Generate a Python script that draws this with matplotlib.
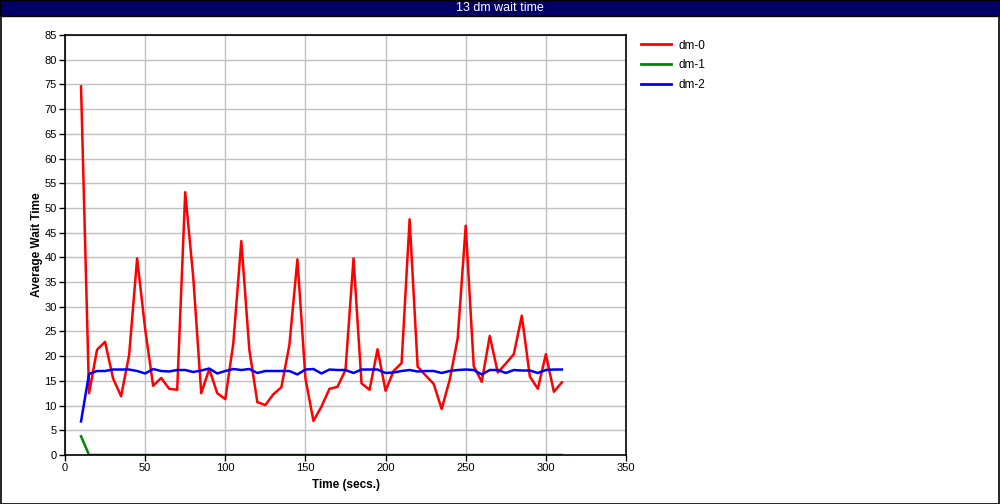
import matplotlib
matplotlib.use("Agg")
import matplotlib.pyplot as plt
from matplotlib.patches import Rectangle
from matplotlib.lines import Line2D

plt.rcParams['font.family'] = ['Liberation Sans Narrow', 'Liberation Sans', 'DejaVu Sans']

time = [10, 15, 20, 25, 30, 35, 40, 45, 50, 55, 60, 65, 70, 75, 80, 85, 90, 95, 100,
        105, 110, 115, 120, 125, 130, 135, 140, 145, 150, 155, 160, 165, 170, 175, 180,
        185, 190, 195, 200, 205, 210, 215, 220, 225, 230, 235, 240, 245, 250, 255, 260,
        265, 270, 275, 280, 285, 290, 295, 300, 305, 310]

dm0 = [74.6, 12.5, 21.3, 22.9, 15.5, 11.9, 20.2, 39.8, 25.5, 14.0, 15.6, 13.4, 13.2, 53.2,
       36.0, 12.5, 17.4, 12.5, 11.3, 22.6, 43.3, 21.3, 10.7, 10.1, 12.3, 13.7, 22.3, 39.6,
       15.5, 6.9, 9.8, 13.4, 13.8, 17.2, 39.8, 14.5, 13.2, 21.4, 13.0, 17.0, 18.6, 47.7,
       17.9, 16.1, 14.4, 9.3, 15.2, 23.6, 46.4, 18.0, 14.8, 24.1, 16.7, 18.5, 20.4, 28.2,
       15.9, 13.4, 20.4, 12.8, 14.7]

dm1 = [3.8] + [0.0] * 60

dm2 = [6.8, 16.4, 17.0, 17.0, 17.3, 17.3, 17.3, 17.0, 16.5, 17.4, 17.0, 16.9, 17.2, 17.2,
       16.8, 17.1, 17.5, 16.5, 17.0, 17.4, 17.2, 17.4, 16.6, 17.0, 17.0, 17.0, 17.0, 16.3,
       17.3, 17.4, 16.5, 17.3, 17.2, 17.2, 16.6, 17.3, 17.3, 17.3, 16.6, 16.7, 17.0, 17.2,
       16.9, 17.0, 17.0, 16.6, 17.0, 17.2, 17.3, 17.2, 16.3, 17.2, 17.2, 16.6, 17.2, 17.1,
       17.1, 16.6, 17.2, 17.3, 17.3]

series_names = ['dm-0', 'dm-1', 'dm-2']
series_colors = ['#ff0000', '#008800', '#0000ff']
title = '13 dm wait time'

W, H = 1000, 504
fig = plt.figure(figsize=(W / 100, H / 100), dpi=100)
fig.patch.set_facecolor('white')

# outer border
fig.add_artist(Rectangle((0.5 / W, 0.5 / H), 1 - 1.5 / W, 1 - 1.5 / H, transform=fig.transFigure,
                         fill=False, edgecolor='black', linewidth=1.2))
# title bar
fig.add_artist(Rectangle((0, 1 - 16 / H), 1, 16 / H, transform=fig.transFigure,
                         facecolor='#000066', edgecolor='black', linewidth=1))
fig.text(0.5, 1 - 8 / H, title, color='white', ha='center', va='center', fontsize=9)

ax = fig.add_axes([65 / W, 1 - 455 / H, (626 - 65) / W, (455 - 35) / H])
for s, c, n in zip([dm0, dm1, dm2], series_colors, series_names):
    ax.plot(time, s, color=c, linewidth=1.8, label=n)

ax.set_xlim(0, 350)
ax.set_ylim(0, 85)
ax.set_xticks(range(0, 351, 50))
ax.set_yticks(range(0, 86, 5))
ax.grid(True, color='#c0c0c0', linewidth=1)
ax.set_axisbelow(True)
ax.tick_params(direction='out', length=4, width=1, labelsize=8, pad=2)
for sp in ax.spines.values():
    sp.set_linewidth(1.2)
ax.set_xlabel('Time (secs.)', fontsize=8.5, fontweight='bold', labelpad=4)
ax.set_ylabel('Average Wait Time', fontsize=8.5, fontweight='bold', labelpad=1)

handles = [Line2D([0], [0], color=c, linewidth=2) for c in series_colors]
fig.legend(handles, series_names, loc='upper left', bbox_to_anchor=(630 / W, 1 - 29 / H),
           frameon=False, fontsize=8.5, handlelength=2.6, handletextpad=0.6, labelspacing=0.65)

fig.savefig('out.png', dpi=100)
